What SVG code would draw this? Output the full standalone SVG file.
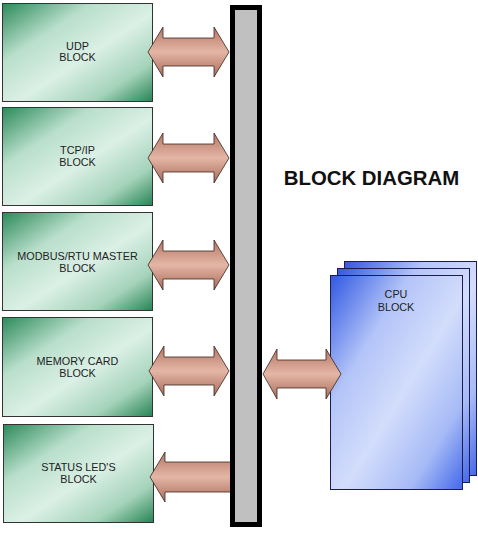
<svg xmlns="http://www.w3.org/2000/svg" width="478" height="534" viewBox="0 0 478 534">
<defs>
<linearGradient id="gGreen" x1="0" y1="0" x2="1" y2="1">
<stop offset="0" stop-color="#2c8a5a"/>
<stop offset="0.3" stop-color="#b9dfcb"/>
<stop offset="0.55" stop-color="#dbf0e6"/>
<stop offset="0.8" stop-color="#a5d3ba"/>
<stop offset="1" stop-color="#268454"/>
</linearGradient>
<linearGradient id="gBlue" x1="0" y1="0" x2="1" y2="1">
<stop offset="0" stop-color="#3058e2"/>
<stop offset="0.3" stop-color="#b3c4f8"/>
<stop offset="0.55" stop-color="#d3ddfb"/>
<stop offset="0.8" stop-color="#a6baf6"/>
<stop offset="1" stop-color="#4468ea"/>
</linearGradient>
<linearGradient id="gArrow" x1="0" y1="0" x2="0" y2="1">
<stop offset="0" stop-color="#b47664"/>
<stop offset="0.5" stop-color="#e4b6a6"/>
<stop offset="1" stop-color="#a86a58"/>
</linearGradient>
<style>
.blk{fill:url(#gGreen);stroke:#333;stroke-width:1}
.cpu{fill:url(#gBlue);stroke:#1c1c50;stroke-width:1}
.arr{fill:url(#gArrow);stroke:#3a2620;stroke-width:0.8;stroke-linejoin:miter}
.t{font-family:"Liberation Sans",Arial,sans-serif;font-size:10.8px;fill:#222;text-anchor:middle}
.title{font-family:"Liberation Sans",Arial,sans-serif;font-size:20.4px;font-weight:bold;fill:#111;text-anchor:middle}
</style>
</defs>
<rect width="478" height="534" fill="#fff"/>
<g id="udp-block">
<rect class="blk" x="2.5" y="3.5" width="150" height="98"/>
<text class="t" x="77.5" y="49.5">UDP</text>
<text class="t" x="77.5" y="61">BLOCK</text>
</g>
<g id="tcpip-block">
<rect class="blk" x="2.5" y="107.5" width="150" height="98"/>
<text class="t" x="77.5" y="154">TCP/IP</text>
<text class="t" x="77.5" y="165.5">BLOCK</text>
</g>
<g id="modbus-block">
<rect class="blk" x="2.5" y="212.5" width="150" height="98"/>
<text class="t" x="77.5" y="260">MODBUS/RTU MASTER</text>
<text class="t" x="77.5" y="271.5">BLOCK</text>
</g>
<g id="memory-block">
<rect class="blk" x="2.5" y="317.5" width="150" height="99"/>
<text class="t" x="77.5" y="365">MEMORY CARD</text>
<text class="t" x="77.5" y="376.5">BLOCK</text>
</g>
<g id="status-block">
<rect class="blk" x="3.5" y="424.5" width="150" height="98"/>
<text class="t" x="78.5" y="470.5">STATUS LED'S</text>
<text class="t" x="78.5" y="482.5">BLOCK</text>
</g>
<g id="cpu-block">
<rect class="cpu" x="344.5" y="261.5" width="132" height="214"/>
<rect class="cpu" x="337.5" y="268.5" width="132" height="214"/>
<rect class="cpu" x="330.5" y="275.5" width="132" height="214"/>
<text class="t" x="396" y="298">CPU</text>
<text class="t" x="396" y="310.5">BLOCK</text>
</g>
<g id="title">
<text class="title" x="371.5" y="185">BLOCK DIAGRAM</text>
</g>
<g id="connectors">
<path class="arr" d="M148,52 L163,27 L163,38 L214,38 L214,27 L229,52 L214,77 L214,66 L163,66 L163,77 Z"/>
<path class="arr" d="M148,158 L163,133 L163,144 L214,144 L214,133 L229,158 L214,183 L214,172 L163,172 L163,183 Z"/>
<path class="arr" d="M148,265 L163,240 L163,251 L214,251 L214,240 L229,265 L214,290 L214,279 L163,279 L163,290 Z"/>
<path class="arr" d="M149,371 L164,346 L164,357 L214,357 L214,346 L229,371 L214,396 L214,385 L164,385 L164,396 Z"/>
<path class="arr" d="M150,477 L165,452 L165,462 L231,462 L231,492 L165,492 L165,502 Z"/>
<path class="arr" d="M263,374 L277,349 L277,360 L326,360 L326,349 L341,374 L326,399 L326,388 L277,388 L277,399 Z"/>
</g>
<g id="bus">
<rect x="232.5" y="7.5" width="27" height="517" fill="#c0c0c0" stroke="#000" stroke-width="5"/>
</g>
</svg>
